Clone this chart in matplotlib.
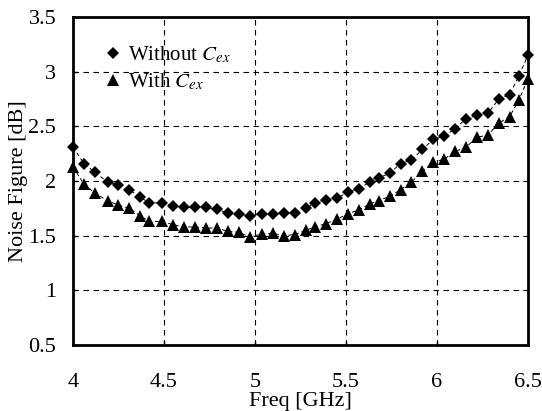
import matplotlib
matplotlib.use("Agg")
import matplotlib.pyplot as plt
from matplotlib.lines import Line2D

plt.rcParams['font.family'] = ['Liberation Serif', 'DejaVu Serif']
plt.rcParams['mathtext.fontset'] = 'stix'

freq = [4.00, 4.06, 4.12, 4.19, 4.25, 4.31, 4.37, 4.42, 4.49, 4.55,
        4.61, 4.67, 4.73, 4.79, 4.85, 4.91, 4.97, 5.04, 5.10, 5.16,
        5.22, 5.28, 5.33, 5.39, 5.45, 5.51, 5.57, 5.63, 5.68, 5.74,
        5.80, 5.86, 5.92, 5.98, 6.04, 6.10, 6.16, 6.22, 6.28, 6.34,
        6.40, 6.45, 6.50]

nf_without = [2.31, 2.16, 2.08, 1.99, 1.96, 1.92, 1.85, 1.80, 1.80, 1.77,
              1.76, 1.76, 1.76, 1.74, 1.71, 1.70, 1.68, 1.70, 1.70, 1.71,
              1.71, 1.75, 1.80, 1.83, 1.84, 1.90, 1.93, 1.99, 2.03, 2.07,
              2.16, 2.19, 2.29, 2.38, 2.41, 2.48, 2.57, 2.60, 2.62, 2.75,
              2.79, 2.96, 3.15]

nf_with = [2.13, 1.97, 1.89, 1.82, 1.78, 1.75, 1.68, 1.63, 1.63, 1.60,
           1.58, 1.58, 1.57, 1.57, 1.54, 1.53, 1.49, 1.515, 1.52, 1.50,
           1.51, 1.55, 1.58, 1.61, 1.65, 1.70, 1.735, 1.79, 1.82, 1.86,
           1.92, 1.99, 2.09, 2.17, 2.20, 2.27, 2.31, 2.40, 2.42, 2.53,
           2.59, 2.74, 2.93]

xticks = [4, 4.5, 5, 5.5, 6, 6.5]
xticklabels = ['4', '4.5', '5', '5.5', '6', '6.5']
yticks = [0.5, 1, 1.5, 2, 2.5, 3, 3.5]
yticklabels = ['0.5', '1', '1.5', '2', '2.5', '3', '3.5']

fig = plt.figure(figsize=(5.42, 4.11), dpi=100)
ax = fig.add_axes([0.1347, 0.1606, 0.8393, 0.798])

ax.plot(freq, nf_without, color='black', lw=0.7, ls=(0, (4, 3)),
        marker='D', markersize=6.5, markeredgewidth=0, clip_on=False, zorder=3)
ax.plot(freq, nf_with, color='black', lw=0.7, ls=(0, (4, 3)),
        marker='^', markersize=8, markeredgewidth=0, clip_on=False, zorder=3)

ax.set_xlim(4, 6.5)
ax.set_ylim(0.5, 3.5)
ax.set_xticks(xticks)
ax.set_xticklabels(xticklabels)
ax.set_yticks(yticks)
ax.set_yticklabels(yticklabels)
ax.tick_params(direction='in', length=3, width=1, labelsize=16)
ax.tick_params(axis='y', pad=12)
ax.tick_params(axis='x', pad=20)

ax.grid(True, color='black', lw=0.8, ls=(0, (5, 4)))
ax.set_axisbelow(True)
for s in ax.spines.values():
    s.set_linewidth(2)
    s.set_color('black')

ax.set_xlabel('Freq [GHz]', fontsize=16, labelpad=0)
ax.set_ylabel('Noise Figure [dB]', fontsize=16, labelpad=0)

handles = [Line2D([], [], color='black', marker='D', markersize=6, ls='none', markeredgewidth=0),
           Line2D([], [], color='black', marker='^', markersize=8, ls='none', markeredgewidth=0)]
labels = ['Without $C_{ex}$', 'With $C_{ex}$']
ax.legend(handles, labels, loc='upper left', bbox_to_anchor=(0.055, 0.94),
          frameon=False, fontsize=15, handlelength=0.6, handletextpad=0.45,
          labelspacing=0.3, borderaxespad=0)

fig.savefig('out.png', dpi=100)
